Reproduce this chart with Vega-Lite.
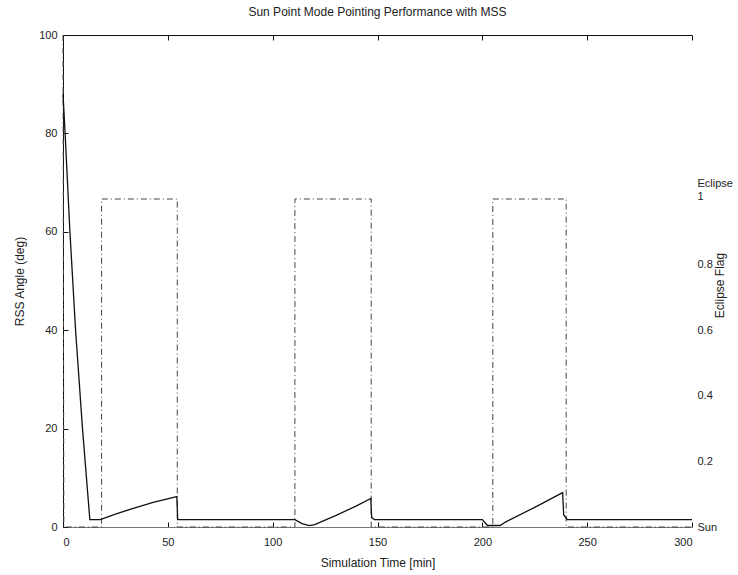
{
  "$schema": "https://vega.github.io/schema/vega-lite/v6.json",
  "width": 629,
  "height": 492,
  "autosize": {"type": "none"},
  "padding": {"left": 63, "top": 35, "right": 46, "bottom": 48},
  "background": "white",
  "title": {"text": "Sun Point Mode Pointing Performance with MSS", "fontSize": 12, "fontWeight": "normal", "font": "Liberation Sans", "color": "#222", "offset": 10},
  "config": {
    "view": {"stroke": null},
    "axis": {"labelFont": "Liberation Sans", "titleFont": "Liberation Sans", "labelColor": "#222", "titleColor": "#222", "labelFontSize": 11, "titleFontSize": 12, "titleFontWeight": "normal", "grid": false, "tickColor": "#111", "domainColor": "#111"}
  },
  "datasets": {
    "rss": [
      {"i": 0, "t": 0, "angle": 88},
      {"i": 1, "t": 1, "angle": 80},
      {"i": 2, "t": 3.3, "angle": 60},
      {"i": 3, "t": 6, "angle": 40},
      {"i": 4, "t": 9.3, "angle": 20},
      {"i": 5, "t": 12.8, "angle": 1.5},
      {"i": 6, "t": 17.8, "angle": 1.5},
      {"i": 7, "t": 25, "angle": 2.6},
      {"i": 8, "t": 33.5, "angle": 3.8},
      {"i": 9, "t": 43, "angle": 5.0},
      {"i": 10, "t": 54.3, "angle": 6.2},
      {"i": 11, "t": 54.7, "angle": 1.5},
      {"i": 12, "t": 110.6, "angle": 1.5},
      {"i": 13, "t": 114, "angle": 0.7},
      {"i": 14, "t": 117.5, "angle": 0.3},
      {"i": 15, "t": 120, "angle": 0.5},
      {"i": 16, "t": 130, "angle": 2.3},
      {"i": 17, "t": 140, "angle": 4.3},
      {"i": 18, "t": 146.8, "angle": 5.8},
      {"i": 19, "t": 147.2, "angle": 2.0},
      {"i": 20, "t": 148.5, "angle": 1.5},
      {"i": 21, "t": 200, "angle": 1.5},
      {"i": 22, "t": 202.5, "angle": 0.3},
      {"i": 23, "t": 208.5, "angle": 0.3},
      {"i": 24, "t": 211, "angle": 1.0},
      {"i": 25, "t": 225, "angle": 4.0},
      {"i": 26, "t": 238.3, "angle": 7.0},
      {"i": 27, "t": 238.8, "angle": 2.5},
      {"i": 28, "t": 240.5, "angle": 1.5},
      {"i": 29, "t": 300, "angle": 1.5}
    ],
    "flag": [
      {"i": 0, "t": 0, "flag": 1.5},
      {"i": 1, "t": 0.4, "flag": 0},
      {"i": 2, "t": 18.4, "flag": 0},
      {"i": 3, "t": 18.4, "flag": 1},
      {"i": 4, "t": 54.5, "flag": 1},
      {"i": 5, "t": 54.5, "flag": 0},
      {"i": 6, "t": 110.6, "flag": 0},
      {"i": 7, "t": 110.6, "flag": 1},
      {"i": 8, "t": 147, "flag": 1},
      {"i": 9, "t": 147, "flag": 0},
      {"i": 10, "t": 205, "flag": 0},
      {"i": 11, "t": 205, "flag": 1},
      {"i": 12, "t": 240, "flag": 1},
      {"i": 13, "t": 240, "flag": 0},
      {"i": 14, "t": 300, "flag": 0}
    ]
  },
  "layer": [
    {
      "data": {"name": "flag"},
      "mark": {"type": "line", "color": "#444", "strokeWidth": 1, "strokeDash": [6, 3, 1, 3]},
      "encoding": {
        "x": {"field": "t", "type": "quantitative", "scale": {"domain": [0, 300], "nice": false},
          "axis": {"orient": "top", "labels": false, "title": null, "values": [0, 50, 100, 150, 200, 250, 300], "tickSize": -5, "domain": true}},
        "y": {"field": "flag", "type": "quantitative", "scale": {"domain": [0, 1.5], "nice": false},
          "axis": {"orient": "right", "title": "Eclipse Flag", "titleAngle": 270, "titleX": 27, "titleY": 250, "titleAlign": "center", "titleBaseline": "middle", "values": [0, 0.2, 0.4, 0.6, 0.8, 1], "ticks": false, "domain": false, "labelPadding": 5,
            "labelExpr": "datum.value == 0 ? 'Sun' : (datum.value == 1 ? ['Eclipse', '1'] : format(datum.value, '.1f'))",
            "labelBaseline": {"condition": {"test": "datum.value == 1", "value": "bottom"}, "value": "middle"},
            "labelOffset": {"condition": {"test": "datum.value == 1", "value": -11}, "value": 0}}},
        "order": {"field": "i", "type": "quantitative"}
      }
    },
    {
      "data": {"name": "rss"},
      "mark": {"type": "line", "color": "#111", "strokeWidth": 1.3},
      "encoding": {
        "x": {"field": "t", "type": "quantitative", "scale": {"domain": [0, 300], "nice": false},
          "axis": {"title": "Simulation Time [min]", "values": [0, 50, 100, 150, 200, 250, 300], "tickSize": -5, "labelPadding": 14, "titlePadding": 10, "domainColor": "#777"}},
        "y": {"field": "angle", "type": "quantitative", "scale": {"domain": [0, 100], "nice": false},
          "axis": {"title": "RSS Angle (deg)", "values": [0, 20, 40, 60, 80, 100], "tickSize": -5, "labelPadding": 11, "titlePadding": 12}},
        "order": {"field": "i", "type": "quantitative"}
      }
    }
  ],
  "resolve": {"scale": {"y": "independent"}, "axis": {"x": "independent"}}
}
